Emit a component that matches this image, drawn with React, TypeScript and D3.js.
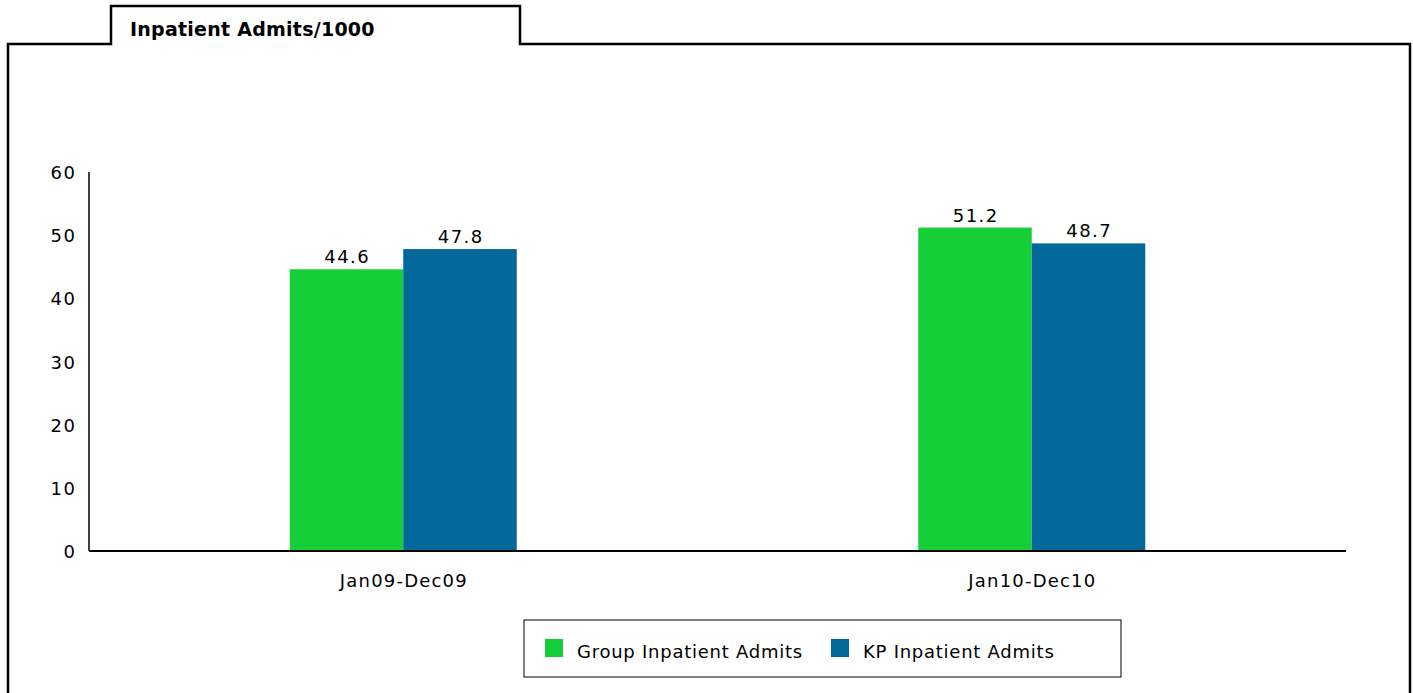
import React, { useRef, useEffect } from 'react';
import * as d3 from 'd3';

const categories: string[] = ['Jan09-Dec09', 'Jan10-Dec10'];
const seriesNames: string[] = ['Group Inpatient Admits', 'KP Inpatient Admits'];
const groupValues: number[] = [44.6, 51.2];
const kpValues: number[] = [47.8, 48.7];
const yTicks: number[] = [0, 10, 20, 30, 40, 50, 60];
const colors: string[] = ['#16cf38', '#03689a'];

const width = 1413;
const height = 693;
const margin = { top: 172, right: 67, bottom: 142, left: 89 };
const font = '"DejaVu Sans", Verdana, sans-serif';

function App() {
    const ref = useRef(null);

    useEffect(() => {
        if (!ref.current) return;
        const svg: any = d3.select(ref.current);
        svg.selectAll('*').remove();

        // panel with tab
        svg.append('path')
            .attr('d', 'M8,693 L8,44 L111,44 L111,6 L520,6 L520,44 L1410,44 L1410,693')
            .attr('fill', 'none')
            .attr('stroke', '#000')
            .attr('stroke-width', 2.5);
        svg.append('text')
            .attr('x', 130).attr('y', 36)
            .attr('font-family', font)
            .attr('font-weight', 'bold')
            .attr('font-size', 19)
            .attr('letter-spacing', 0.25)
            .text('Inpatient Admits/1000');

        const x0 = d3.scaleBand()
            .domain(categories)
            .range([margin.left, width - margin.right]);

        const x1 = d3.scaleBand()
            .domain(seriesNames)
            .range([0, 227]);

        const y = d3.scaleLinear()
            .domain([0, 60])
            .range([height - margin.bottom, margin.top]);

        const rows = categories.map((c, i) => ({ cat: c, values: [groupValues[i], kpValues[i]] }));

        const g = svg.append('g');
        rows.forEach((r) => {
            const cx = (x0(r.cat) as number) + x0.bandwidth() / 2 - 113.5;
            r.values.forEach((v, j) => {
                const bx = cx + (x1(seriesNames[j]) as number);
                g.append('rect')
                    .attr('x', bx)
                    .attr('y', y(v))
                    .attr('width', x1.bandwidth())
                    .attr('height', y(0) - y(v))
                    .attr('fill', colors[j]);
                g.append('text')
                    .attr('x', bx + x1.bandwidth() / 2 + 0.75)
                    .attr('y', y(v) - 6)
                    .attr('text-anchor', 'middle')
                    .attr('font-family', font)
                    .attr('font-size', 18)
                    .attr('letter-spacing', 1.5)
                    .text(v.toFixed(1));
            });
        });

        // axes
        svg.append('line')
            .attr('x1', margin.left).attr('x2', margin.left)
            .attr('y1', y(60)).attr('y2', y(0))
            .attr('stroke', '#000').attr('stroke-width', 1.5);
        svg.append('line')
            .attr('x1', margin.left).attr('x2', width - margin.right)
            .attr('y1', y(0)).attr('y2', y(0))
            .attr('stroke', '#000').attr('stroke-width', 2);

        svg.append('g').selectAll('text')
            .data(yTicks)
            .join('text')
            .attr('x', 76.5)
            .attr('y', (d: number) => y(d) + 7)
            .attr('text-anchor', 'end')
            .attr('font-family', font)
            .attr('font-size', 18)
            .attr('letter-spacing', 1.5)
            .text((d: number) => d);

        svg.append('g').selectAll('text')
            .data(categories)
            .join('text')
            .attr('x', (d: string) => (x0(d) as number) + x0.bandwidth() / 2 + 0.6)
            .attr('y', 587)
            .attr('text-anchor', 'middle')
            .attr('font-family', font)
            .attr('font-size', 18)
            .attr('letter-spacing', 1.2)
            .text((d: string) => d);

        // legend
        const lg = svg.append('g');
        lg.append('rect')
            .attr('x', 524).attr('y', 620)
            .attr('width', 597).attr('height', 57)
            .attr('fill', '#fff').attr('stroke', '#000').attr('stroke-width', 1);
        const lx = [545, 831];
        seriesNames.forEach((s, i) => {
            lg.append('rect')
                .attr('x', lx[i]).attr('y', 639)
                .attr('width', 18).attr('height', 18)
                .attr('fill', colors[i]);
            lg.append('text')
                .attr('x', lx[i] + 32).attr('y', 658)
                .attr('font-family', font)
                .attr('font-size', 18)
                .attr('letter-spacing', 0.75)
                .text(s);
        });
    }, []);

    return (
        <svg
            ref={ref}
            width={width}
            height={height}
            style={{ position: 'absolute', left: 0, top: 0, background: '#fff' }}
        />
    );
}

export default App;
